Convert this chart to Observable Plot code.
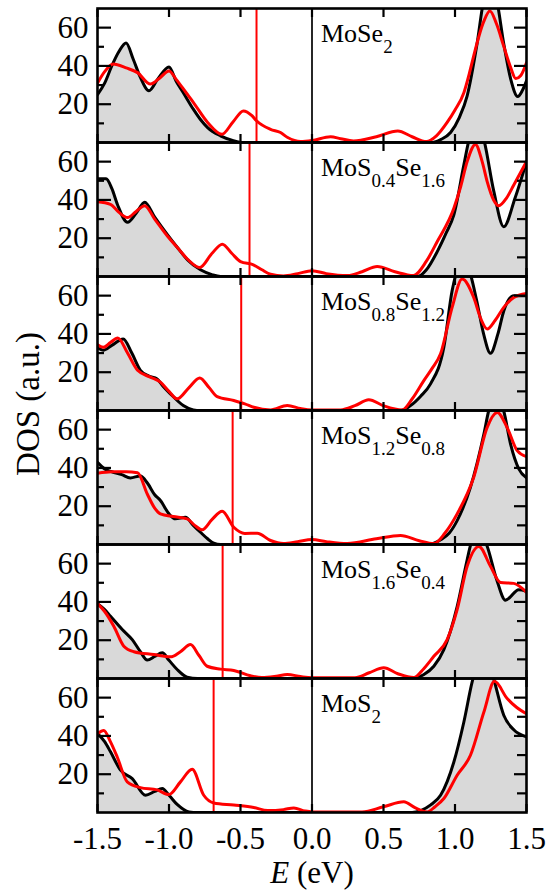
<!DOCTYPE html>
<html><head><meta charset="utf-8">
<script src="https://cdn.jsdelivr.net/npm/d3@7"></script>
<script src="https://cdn.jsdelivr.net/npm/@observablehq/plot@0.6"></script>
<style>body{margin:0;background:#fff;font-size:26px}</style></head>
<body><div style="position:relative;width:549px;height:892px;font-family:serif !important;color:#000;"><div id="chart"></div><div id="ylab" style="position:absolute;left:28px;top:404px;transform:translate(-50%,-50%) rotate(-90deg);font-size:33px;white-space:nowrap;line-height:1;font-family:serif !important;">DOS (a.u.)</div><div id="xlab" style="position:absolute;left:312px;top:857px;transform:translateX(-50%);font-size:31px;white-space:nowrap;line-height:1;font-family:serif !important;"><i>E</i> (eV)</div></div>
<script>
// ---- data ----
const panels = ["MoSe2", "MoS0.4Se1.6", "MoS0.8Se1.2", "MoS1.2Se0.8", "MoS1.6Se0.4", "MoS2"];
const labels = ["MoSe_{2}", "MoS_{0.4}Se_{1.6}", "MoS_{0.8}Se_{1.2}", "MoS_{1.2}Se_{0.8}", "MoS_{1.6}Se_{0.4}", "MoS_{2}"];
const fermi = [-0.388, -0.437, -0.495, -0.555, -0.625, -0.688];
const xTicks = [-1.5, -1.0, -0.5, 0.0, 0.5, 1.0, 1.5];
const yMajor = [20, 40, 60];
const yMinor = [10, 30, 50];

// black (filled) curves: [E, DOS]
const black_MoSe2 = [[-1.5,25],[-1.45,31],[-1.4,40],[-1.35,47.5],[-1.3,52],[-1.25,43.5],[-1.2,34],[-1.14,27],[-1.08,33],[-1.0,39.5],[-0.95,32],[-0.9,26],[-0.83,17.4],[-0.78,12],[-0.73,7.8],[-0.64,3.5],[-0.55,1],[-0.48,0],[0.84,0],[0.9,1.5],[0.969,5.2],[1.03,13],[1.085,24.4],[1.155,52],[1.2,74],[1.245,82],[1.29,75],[1.34,52],[1.39,33],[1.439,24],[1.47,27],[1.5,32.2]];
const black_MoS04Se16 = [[-1.5,51],[-1.44,51],[-1.4,46],[-1.36,37.5],[-1.29,28.3],[-1.23,33],[-1.17,38.8],[-1.1,31],[-1.01,21.7],[-0.94,15],[-0.87,8.7],[-0.78,3.5],[-0.7,1],[-0.64,0],[0.74,0],[0.8,3.5],[0.876,13],[0.94,23],[0.992,32.2],[1.062,58.3],[1.1,72],[1.15,80],[1.2,72],[1.27,45],[1.341,26],[1.42,41],[1.5,60]];
const black_MoS08Se12 = [[-1.5,32.7],[-1.46,31.5],[-1.4,34],[-1.32,37.4],[-1.26,30],[-1.2,21],[-1.14,18],[-1.083,16.5],[-1.04,12.5],[-0.99,8.7],[-0.9,2.6],[-0.83,0.3],[-0.78,0],[0.62,0],[0.689,2.6],[0.76,7.5],[0.829,13.9],[0.922,33],[0.98,62.6],[1.02,74],[1.06,77],[1.1,73],[1.15,58],[1.2,40],[1.248,29.9],[1.3,40],[1.341,52],[1.411,60],[1.5,60]];
const black_MoS12Se08 = [[-1.5,42.9],[-1.45,39.5],[-1.4,38],[-1.33,36.5],[-1.27,34.8],[-1.2,35.8],[-1.15,32],[-1.1,26],[-1.06,23],[-1.0,16],[-0.955,13.4],[-0.885,14.2],[-0.83,10],[-0.78,6.4],[-0.73,3],[-0.687,0.7],[-0.64,0],[0.8,0],[0.9,2.5],[0.96,6],[1.015,12.5],[1.108,29.9],[1.202,57.7],[1.236,70],[1.29,79],[1.34,70],[1.39,52],[1.446,39.5],[1.5,34.8]];
const black_MoS16Se04 = [[-1.5,39.1],[-1.45,36],[-1.409,32.5],[-1.327,25.6],[-1.257,20.3],[-1.2,14],[-1.152,9.6],[-1.1,11.5],[-1.047,13.4],[-1.0,9.5],[-0.943,4.7],[-0.873,0.7],[-0.8,0],[0.7,0],[0.78,2],[0.852,6.4],[0.922,15.1],[1.015,37.6],[1.085,62],[1.11,70],[1.16,76],[1.22,70],[1.29,52],[1.353,40.9],[1.446,46.4],[1.5,45.6]];
const black_MoS2 = [[-1.5,41.2],[-1.45,37],[-1.409,31.7],[-1.339,22.1],[-1.257,17.7],[-1.164,9],[-1.1,11],[-1.047,12.5],[-1.0,9],[-0.943,4.2],[-0.86,0.3],[-0.8,0],[0.7,0],[0.76,1],[0.83,4],[0.899,9],[0.992,26.4],[1.062,47.3],[1.12,68.2],[1.2,86],[1.27,70],[1.341,50.8],[1.411,43.2],[1.5,39.5]];

// red curves: [E, DOS]
const red_MoSe2 = [[-1.5,31],[-1.45,37],[-1.39,41],[-1.3,39],[-1.22,36.5],[-1.13,30.5],[-1.06,34],[-1.0,37.4],[-0.95,33],[-0.88,26],[-0.83,21],[-0.73,10.5],[-0.63,4.3],[-0.55,11],[-0.48,16.5],[-0.42,14],[-0.39,11.5],[-0.29,6.9],[-0.22,5.2],[-0.17,2.6],[-0.08,0.5],[0,1],[0.13,3],[0.2,2],[0.29,0.8],[0.45,3],[0.6,6],[0.7,3],[0.8,0.5],[0.87,3.5],[0.945,10.5],[1.0,17],[1.062,26],[1.1,36],[1.13,45],[1.2,63],[1.244,68.7],[1.29,62],[1.34,50.5],[1.39,39],[1.425,33.4],[1.46,35],[1.5,41.7]];
const red_MoS04Se16 = [[-1.5,39],[-1.41,37.7],[-1.35,33.5],[-1.29,30.8],[-1.23,34],[-1.17,37],[-1.1,30],[-1.01,21],[-0.94,15],[-0.87,9],[-0.785,4.7],[-0.7,12],[-0.627,16.9],[-0.56,12],[-0.5,7.8],[-0.41,6.1],[-0.35,3.5],[-0.29,1.2],[-0.2,0.3],[-0.1,1.5],[0,3],[0.1,1.5],[0.25,0.5],[0.35,2.5],[0.456,5.2],[0.58,2.5],[0.71,0.5],[0.8,8],[0.876,18.3],[0.992,35.6],[1.04,47],[1.085,60],[1.143,69],[1.19,60],[1.225,49.6],[1.27,40],[1.306,37],[1.36,41],[1.411,47.8],[1.5,60]];
const red_MoS08Se12 = [[-1.5,34.4],[-1.46,33],[-1.41,35.5],[-1.358,37.9],[-1.29,30],[-1.22,21],[-1.129,17.4],[-1.06,14.8],[-1.0,10],[-0.943,6.1],[-0.86,12],[-0.785,17],[-0.72,12],[-0.663,7.3],[-0.547,5.2],[-0.47,3.5],[-0.407,1.7],[-0.29,0.3],[-0.173,2.6],[-0.08,1],[0,0.3],[0.2,0.3],[0.3,2.5],[0.397,5.6],[0.5,2.5],[0.631,0.3],[0.7,6],[0.782,15.6],[0.84,22],[0.899,29.6],[0.98,53.9],[1.05,68.7],[1.131,59],[1.18,48],[1.225,42.6],[1.28,47],[1.341,53.9],[1.411,59],[1.5,61.2]];
const red_MoS12Se08 = [[-1.5,37.2],[-1.4,38],[-1.3,38],[-1.22,37.5],[-1.152,26.4],[-1.1,19],[-1.06,16],[-0.97,14.6],[-0.873,13.4],[-0.82,10],[-0.768,7.7],[-0.7,13],[-0.628,17.4],[-0.547,9],[-0.47,5.8],[-0.383,5.9],[-0.29,2.1],[-0.2,0.5],[-0.1,1.5],[0,2.6],[0.1,1.5],[0.246,0.5],[0.45,3],[0.619,4.7],[0.75,2],[0.852,0.5],[0.93,6],[1.015,16],[1.131,35.1],[1.225,61.2],[1.295,69],[1.365,61],[1.435,49],[1.5,45.9]];
const red_MoS16Se04 = [[-1.5,39.1],[-1.45,35],[-1.386,27.3],[-1.316,16.9],[-1.246,14],[-1.106,12.5],[-0.99,11.3],[-0.92,14],[-0.85,17.7],[-0.79,12],[-0.733,6.4],[-0.64,4.9],[-0.547,4.2],[-0.43,1.4],[-0.35,0.5],[-0.25,1.2],[-0.173,2.1],[-0.08,1],[0,0.4],[0.3,0.4],[0.4,3],[0.502,5.6],[0.6,2.5],[0.712,0.5],[0.78,5],[0.852,11.6],[0.945,20.3],[1.015,36],[1.085,58.6],[1.167,69],[1.248,58.6],[1.318,50.2],[1.411,49.7],[1.5,45]];
const red_MoS2 = [[-1.5,41.2],[-1.456,42.9],[-1.41,37],[-1.362,29],[-1.292,16],[-1.2,13],[-1.083,11.8],[-1.001,9.4],[-0.92,16],[-0.838,22.6],[-0.757,9],[-0.687,5],[-0.547,3.9],[-0.407,2.6],[-0.31,1],[-0.2,1.5],[-0.127,2.4],[-0.05,0.8],[0,0.3],[0.35,0.3],[0.5,3],[0.642,5.6],[0.72,2.5],[0.806,0.3],[0.86,3],[0.922,7.3],[1.015,19.5],[1.108,29.9],[1.202,52.5],[1.276,68.5],[1.365,59.5],[1.43,55],[1.5,51.6]];

const blackSets = [black_MoSe2, black_MoS04Se16, black_MoS08Se12, black_MoS12Se08, black_MoS16Se04, black_MoS2];
const redSets = [red_MoSe2, red_MoS04Se16, red_MoS08Se12, red_MoS12Se08, red_MoS16Se04, red_MoS2];

// ---- build tables ----
const black = [], red = [];
panels.forEach((p, i) => {
  for (const [E, v] of blackSets[i]) black.push({panel: p, E, v});
  for (const [E, v] of redSets[i]) red.push({panel: p, E, v});
});
const fermiData = panels.map((p, i) => ({panel: p, E: fermi[i]}));
const labelData = panels.map((p, i) => ({panel: p, label: labels[i], E: 0}));

const tickStyle = {tickFormat: () => "", fill: "none", label: null, strokeWidth: 2.2};

const chart = Plot.plot({
  width: 549, height: 892,
  marginTop: 5, marginBottom: 78, marginLeft: 97, marginRight: 23,
  style: {fontFamily: "serif", background: "white", color: "black"},
  x: {domain: [-1.5, 1.5]},
  y: {domain: [0, 70]},
  fy: {domain: panels, padding: 0, axis: null},
  marks: [
    Plot.areaY(black, {x: "E", y: "v", fy: "panel", fill: "#d9d9d9", curve: "monotone-x", clip: true}),
    Plot.ruleX([0], {stroke: "black", strokeWidth: 1.7}),
    Plot.ruleX(fermiData, {x: "E", fy: "panel", stroke: "#ff0000", strokeWidth: 2}),
    Plot.lineY(black, {x: "E", y: "v", fy: "panel", stroke: "black", strokeWidth: 3, curve: "monotone-x", clip: true}),
    Plot.lineY(red, {x: "E", y: "v", fy: "panel", stroke: "#ff0000", strokeWidth: 3, curve: "monotone-x", clip: true}),
    Plot.frame({stroke: "black", strokeWidth: 2.6}),
    // inward ticks
    Plot.axisY({anchor: "left", ticks: yMajor, tickSize: -14, ...tickStyle}),
    Plot.axisY({anchor: "left", ticks: yMinor, tickSize: -7, ...tickStyle}),
    Plot.axisY({anchor: "right", ticks: yMajor, tickSize: -13, ...tickStyle}),
    Plot.axisY({anchor: "right", ticks: yMinor, tickSize: -10, ...tickStyle}),
    Plot.axisX({anchor: "top", ticks: xTicks, tickSize: -8, facetAnchor: null, ...tickStyle}),
    Plot.axisX({anchor: "bottom", ticks: xTicks, tickSize: -8, facetAnchor: null, ...tickStyle}),
    // tick labels
    Plot.axisY({anchor: "left", ticks: yMajor, tickSize: 0, tickPadding: 9, fontSize: 31, label: null, tickFormat: d => String(d)}),
    Plot.axisX({anchor: "bottom", ticks: xTicks, tickSize: 0, tickPadding: 14, fontSize: 31, label: null, tickFormat: d => d.toFixed(1)}),
    // panel labels
    Plot.text(labelData, {x: "E", fy: "panel", text: "label", frameAnchor: "top", textAnchor: "start", lineAnchor: "top", dx: 9, dy: 15, fontSize: 26, fill: "black"})
  ]
});

// subscripts
chart.querySelectorAll("text").forEach(t => {
  t.style.setProperty("font-family", "serif", "important");
  const s = t.textContent;
  if (!s.includes("_{")) return;
  t.textContent = "";
  const re = /([^_]+)|_\{([^}]*)\}/g;
  let m, lowered = false;
  while ((m = re.exec(s))) {
    const ts = document.createElementNS("http://www.w3.org/2000/svg", "tspan");
    if (m[1] !== undefined) {
      ts.textContent = m[1];
      if (lowered) { ts.setAttribute("dy", -11); lowered = false; }
    } else {
      ts.textContent = m[2];
      ts.setAttribute("font-size", 19);
      ts.setAttribute("dy", 11);
      lowered = true;
    }
    t.appendChild(ts);
  }
});
chart.querySelectorAll("g").forEach(g => g.style.setProperty("font-family", "serif", "important"));
chart.style.setProperty("font-family", "serif", "important");

document.getElementById("chart").appendChild(chart);
</script>
</body></html>
